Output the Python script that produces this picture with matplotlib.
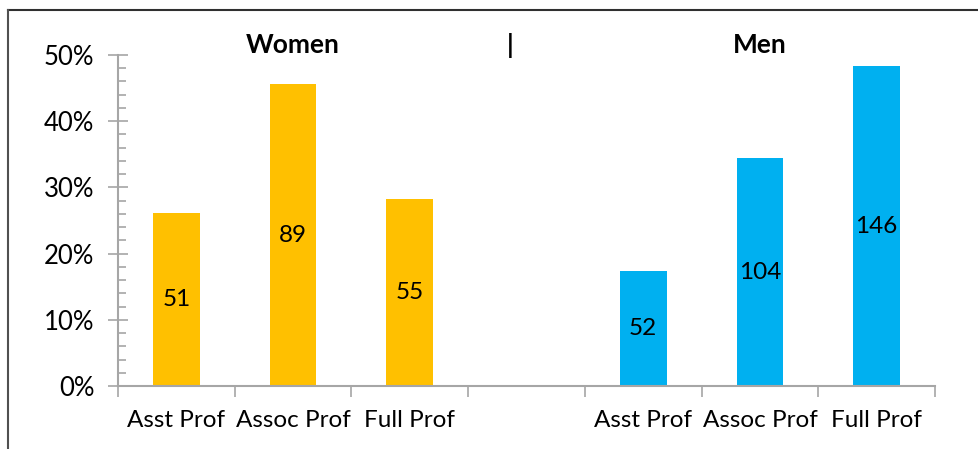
""" Faculty rank distribution by gender. """

import matplotlib
matplotlib.use("Agg")
import matplotlib.pyplot as plt
from matplotlib.lines import Line2D
from matplotlib.ticker import FuncFormatter, MultipleLocator, FixedLocator

categories = ["Asst Prof", "Assoc Prof", "Full Prof", "", "Asst Prof", "Assoc Prof", "Full Prof"]
women_pct = [0.261, 0.456, 0.282]
men_pct = [0.174, 0.344, 0.483]
women_n = [51, 89, 55]
men_n = [52, 104, 146]

plt.rcParams["font.family"] = ["Lato", "DejaVu Sans"]

W, H = 979, 449
fig = plt.figure(figsize=(W / 100, H / 100), dpi=100)
ax = fig.add_axes([118 / W, (H - 386) / H, (935 - 118) / W, (386 - 55) / H])

women_x = [0, 1, 2]
men_x = [4, 5, 6]
axis_grey = "#a6a6a6"

wb = ax.bar(women_x, women_pct, width=0.4, color="#FFC000")
mb = ax.bar(men_x, men_pct, width=0.4, color="#00B0F0")

for bars, counts in [(wb, women_n), (mb, men_n)]:
    for b, n in zip(bars, counts):
        ax.text(b.get_x() + b.get_width() / 2, b.get_height() / 2, str(n),
                ha="center", va="center", fontsize=17.5, color="black")

ax.set_xlim(-0.5, 6.5)
ax.set_ylim(0, 0.5)

ax.yaxis.set_major_locator(MultipleLocator(0.1))
ax.yaxis.set_minor_locator(MultipleLocator(0.02))
ax.yaxis.set_major_formatter(FuncFormatter(lambda v, p: f"{v * 100:.0f}%"))
ax.tick_params(axis="y", which="major", direction="inout", length=14, width=1.2,
               color=axis_grey, labelsize=18.5, pad=10)
ax.tick_params(axis="y", which="minor", direction="in", length=6, width=1.2, color=axis_grey)

ax.set_xticks(range(len(categories)))
ax.set_xticklabels(categories)
ax.xaxis.set_minor_locator(FixedLocator([i - 0.5 for i in range(len(categories) + 1)]))
ax.tick_params(axis="x", which="major", length=0, labelsize=17.5, pad=17)
ax.tick_params(axis="x", which="minor", direction="out", length=8, width=1.2, color=axis_grey)

for s in ["top", "right"]:
    ax.spines[s].set_visible(False)
for s in ["left", "bottom"]:
    ax.spines[s].set_color(axis_grey)
    ax.spines[s].set_linewidth(1.5)

ax.text(1, 0.515, "Women", ha="center", va="center", fontsize=19, fontweight="bold", clip_on=False)
ax.text(2.86, 0.515, "|", ha="center", va="center", fontsize=19, fontweight="bold", clip_on=False)
ax.text(5, 0.515, "Men", ha="center", va="center", fontsize=19, fontweight="bold", clip_on=False)

# outer frame (top and left edges only)
fig.add_artist(Line2D([8 / W, 1], [1 - 10 / H, 1 - 10 / H], color="#303030", lw=1.5))
fig.add_artist(Line2D([8 / W, 8 / W], [0, 1 - 10 / H], color="#505050", lw=1.5))

plt.savefig("out.png", dpi=100)
